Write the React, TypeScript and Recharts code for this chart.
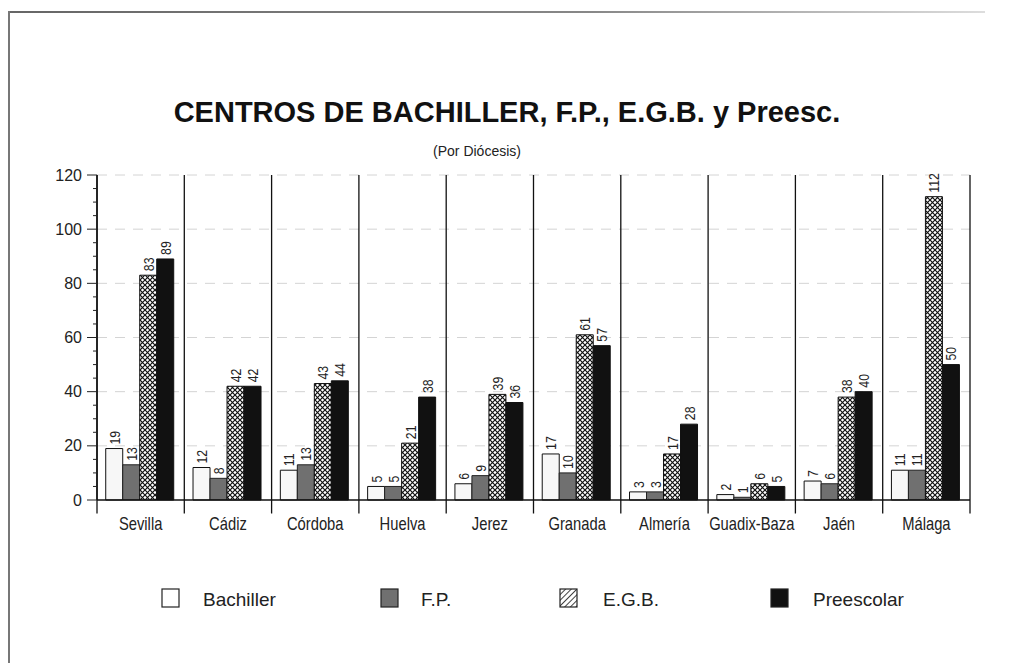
import React from 'react';
import { BarChart, Bar, XAxis, YAxis, CartesianGrid, ReferenceLine, LabelList } from 'recharts';

const categories = ['Sevilla', 'Cádiz', 'Córdoba', 'Huelva', 'Jerez', 'Granada', 'Almería', 'Guadix-Baza', 'Jaén', 'Málaga'];
const bachiller = [19, 12, 11, 5, 6, 17, 3, 2, 7, 11];
const fp = [13, 8, 13, 5, 9, 10, 3, 1, 6, 11];
const egb = [83, 42, 43, 21, 39, 61, 17, 6, 38, 112];
const preescolar = [89, 42, 44, 38, 36, 57, 28, 5, 40, 50];
const majorTicks = [0, 20, 40, 60, 80, 100, 120];
const minorStep = 5;
const yMax = 120;
const yBelow = -5;
const seriesNames = ['Bachiller', 'F.P.', 'E.G.B.', 'Preescolar'];

const allTicks: number[] = [];
for (let v = 0; v <= yMax; v += minorStep) allTicks.push(v);
const gridValues = majorTicks.filter((v) => v > 0);

// separators: start of the first band, then the end of every band
const separators = [
  { cat: categories[0], position: 'start' as const },
  ...categories.map((c) => ({ cat: c, position: 'end' as const })),
];

const data = categories.map((name, i) => ({
  name,
  bachiller: bachiller[i],
  fp: fp[i],
  egb: egb[i],
  pre: preescolar[i],
}));

const SANS = "'Liberation Sans', Arial, Helvetica, sans-serif";
const NARROW_SCALE = 0.82;

const ValueLabel = (props: any) => {
  const { x, y, width, value } = props;
  const cx = Number(x) + Number(width) / 2 + 5.5;
  const cy = Number(y) - 4;
  return (
    <text
      transform={`translate(${cx},${cy}) rotate(-90) scale(${NARROW_SCALE},1)`}
      fontFamily={SANS}
      fontSize={15}
      fill="#222"
      textAnchor="start"
    >
      {value}
    </text>
  );
};

const YTick = (props: any) => {
  const { x, y, payload } = props;
  const v = payload.value;
  const major = v % 20 === 0;
  return (
    <g>
      <line x1={x - (major ? 10 : 4)} x2={x} y1={y} y2={y} stroke="#222" strokeWidth={1} />
      {major && (
        <text x={x - 15} y={y} dy={5.5} textAnchor="end" fontFamily={SANS} fontSize={16} fill="#222">
          {v}
        </text>
      )}
    </g>
  );
};

const XTick = (props: any) => {
  const { x, y, payload } = props;
  return (
    <text
      transform={`translate(${x},${y + 30}) scale(${NARROW_SCALE},1)`}
      textAnchor="middle"
      fontFamily={SANS}
      fontSize={18}
      fill="#222"
    >
      {payload.value}
    </text>
  );
};

const legendItems = [
  { label: seriesNames[0], fill: '#ffffff', box: 162, text: 203 },
  { label: seriesNames[1], fill: '#707070', box: 381, text: 421 },
  { label: seriesNames[2], fill: 'url(#lhatch)', box: 560, text: 603 },
  { label: seriesNames[3], fill: '#111111', box: 771, text: 813 },
];

export default function App() {
  return (
    <div style={{ position: 'absolute', left: 0, top: 0, width: 1010, height: 663, background: '#fff', overflow: 'hidden' }}>
      <svg width={0} height={0} style={{ position: 'absolute' }}>
        <defs>
          <pattern id="xhatch" patternUnits="userSpaceOnUse" width={5} height={5}>
            <rect width={5} height={5} fill="#fff" />
            <path d="M0,0 L5,5 M5,0 L0,5" stroke="#111" strokeWidth={1.2} />
          </pattern>
          <pattern id="lhatch" patternUnits="userSpaceOnUse" width={4} height={4} patternTransform="rotate(45)">
            <rect width={4} height={4} fill="#fff" />
            <line x1={0} y1={0} x2={0} y2={4} stroke="#111" strokeWidth={1.6} />
          </pattern>
          <linearGradient id="topfade" x1="0" y1="0" x2="1" y2="0">
            <stop offset="0" stopColor="#666" />
            <stop offset="0.6" stopColor="#888" />
            <stop offset="1" stopColor="#ddd" />
          </linearGradient>
        </defs>
      </svg>
      <BarChart
        width={1010}
        height={663}
        data={data}
        margin={{ top: 175, right: 40, left: 0, bottom: 123 }}
        barCategoryGap="10%"
        barGap={0}
      >
        <CartesianGrid
          vertical={false}
          horizontalValues={gridValues}
          stroke="#d4d4d4"
          strokeDasharray="10 8"
        />
        <XAxis
          dataKey="name"
          height={40}
          interval={0}
          axisLine={{ stroke: '#111', strokeWidth: 1.5 }}
          tickLine={false}
          tickSize={0}
          tickMargin={0}
          tick={<XTick />}
        />
        <YAxis
          width={97}
          domain={[0, yMax]}
          ticks={allTicks}
          interval={0}
          axisLine={{ stroke: '#111', strokeWidth: 1.5 }}
          tickLine={false}
          tickSize={0}
          tickMargin={0}
          tick={<YTick />}
        />
        <Bar dataKey="bachiller" fill="#f7f7f7" stroke="#111" strokeWidth={1} isAnimationActive={false}>
          <LabelList dataKey="bachiller" content={<ValueLabel />} />
        </Bar>
        <Bar dataKey="fp" fill="#707070" stroke="#222" strokeWidth={1} isAnimationActive={false}>
          <LabelList dataKey="fp" content={<ValueLabel />} />
        </Bar>
        <Bar dataKey="egb" fill="url(#xhatch)" stroke="#111" strokeWidth={1} isAnimationActive={false}>
          <LabelList dataKey="egb" content={<ValueLabel />} />
        </Bar>
        <Bar dataKey="pre" fill="#111" stroke="#111" strokeWidth={1} isAnimationActive={false}>
          <LabelList dataKey="pre" content={<ValueLabel />} />
        </Bar>
        {separators.map((s, i) => (
          <ReferenceLine
            key={`sep-${i}`}
            segment={[{ x: s.cat, y: yBelow }, { x: s.cat, y: yMax }]}
            position={s.position}
            stroke="#111"
            strokeWidth={1.3}
            ifOverflow="visible"
          />
        ))}
      </BarChart>
      <svg
        width={1010}
        height={663}
        style={{ position: 'absolute', left: 0, top: 0, pointerEvents: 'none' }}
      >
        <rect x={9} y={11} width={976} height={2} fill="url(#topfade)" />
        <line x1={9} y1={11} x2={9} y2={663} stroke="#777" strokeWidth={2} />
        <text x={507} y={122} textAnchor="middle" fontFamily={SANS} fontWeight="bold" fontSize={29} fill="#111">
          CENTROS DE BACHILLER, F.P., E.G.B. y Preesc.
        </text>
        <text x={477} y={156} textAnchor="middle" fontFamily={SANS} fontSize={14} fill="#222">
          (Por Diócesis)
        </text>
        {legendItems.map((it) => (
          <g key={it.label}>
            <rect x={it.box} y={589} width={17} height={18} fill={it.fill} stroke="#222" strokeWidth={1.2} />
            <text x={it.text} y={606} fontFamily={SANS} fontSize={19} fill="#222">
              {it.label}
            </text>
          </g>
        ))}
      </svg>
    </div>
  );
}
